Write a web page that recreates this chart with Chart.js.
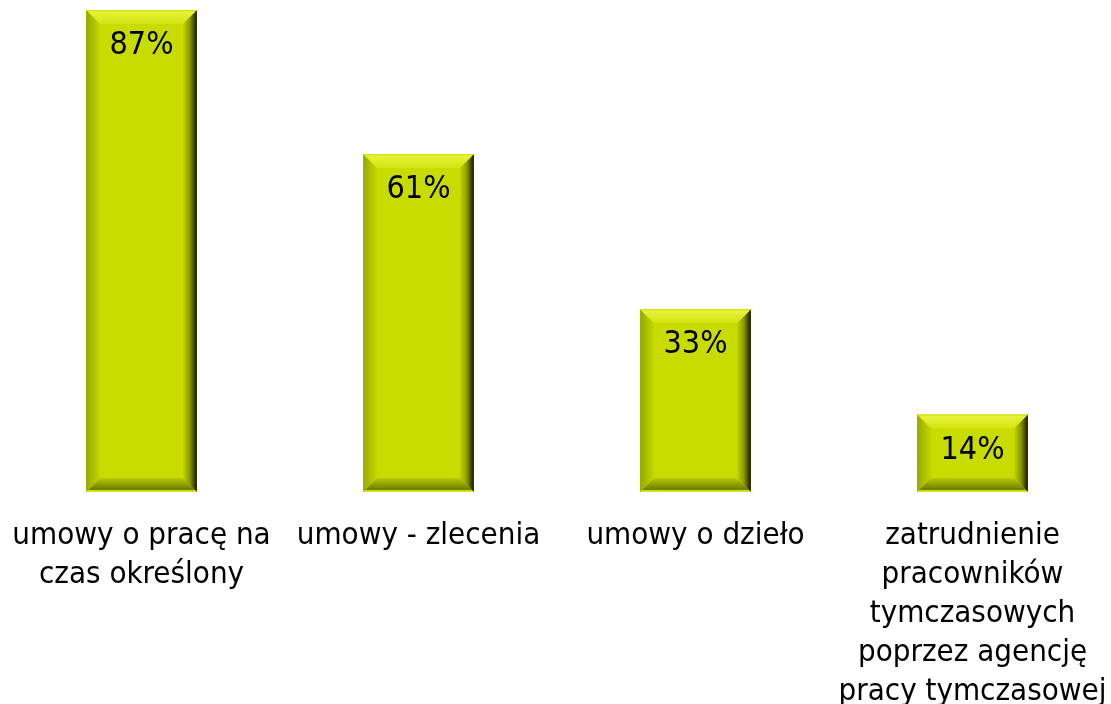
<!DOCTYPE html>
<html>
<head>
<meta charset="utf-8">
<script src="https://cdn.jsdelivr.net/npm/chart.js@4/dist/chart.umd.min.js"></script>
<style>
html,body{margin:0;padding:0;background:#fff;}
#wrap{width:1111px;height:704px;position:relative;}
</style>
</head>
<body>
<div id="wrap"><canvas id="c" width="1111" height="704"></canvas></div>
<script>
const categories = [
  ["umowy o pracę na", "czas określony"],
  ["umowy - zlecenia"],
  ["umowy o dzieło"],
  ["zatrudnienie", "pracowników", "tymczasowych", "poprzez agencję", "pracy tymczasowej"]
];
const values = [87, 61, 33, 14];
const valueLabels = ["87%", "61%", "33%", "14%"];

const FONT = "DejaVu Sans Condensed";
const FACE = "#c8dc00";

const bevelPlugin = {
  id: "bevel",
  afterDatasetsDraw(chart) {
    const ctx = chart.ctx;
    const meta = chart.getDatasetMeta(0);
    meta.data.forEach((bar, i) => {
      const p = bar.getProps(["x", "y", "base", "width"], true);
      const x0 = p.x - p.width / 2, x1 = p.x + p.width / 2;
      const y0 = p.y, y1 = p.base;
      const b = 14;
      ctx.save();
      // left
      let g = ctx.createLinearGradient(x0, 0, x0 + b, 0);
      g.addColorStop(0, "#98a800"); g.addColorStop(1, "#c4d800");
      ctx.fillStyle = g;
      ctx.beginPath(); ctx.moveTo(x0, y0); ctx.lineTo(x0 + b, y0 + b); ctx.lineTo(x0 + b, y1 - b); ctx.lineTo(x0, y1); ctx.closePath(); ctx.fill();
      // right
      g = ctx.createLinearGradient(x1 - b, 0, x1, 0);
      g.addColorStop(0, "#c4d800"); g.addColorStop(0.5, "#8a9800"); g.addColorStop(1, "#141400");
      ctx.fillStyle = g;
      ctx.beginPath(); ctx.moveTo(x1, y0); ctx.lineTo(x1, y1); ctx.lineTo(x1 - b, y1 - b); ctx.lineTo(x1 - b, y0 + b); ctx.closePath(); ctx.fill();
      // top
      g = ctx.createLinearGradient(0, y0, 0, y0 + b);
      g.addColorStop(0, "#d0e000"); g.addColorStop(0.15, "#e8f23c"); g.addColorStop(1, "#d2e410");
      ctx.fillStyle = g;
      ctx.beginPath(); ctx.moveTo(x0, y0); ctx.lineTo(x1, y0); ctx.lineTo(x1 - b, y0 + b); ctx.lineTo(x0 + b, y0 + b); ctx.closePath(); ctx.fill();
      // bottom
      g = ctx.createLinearGradient(0, y1 - b, 0, y1);
      g.addColorStop(0, "#b8cc00"); g.addColorStop(0.85, "#6c7a00"); g.addColorStop(0.86, "#c8dc00"); g.addColorStop(1, "#d8e820");
      ctx.fillStyle = g;
      ctx.beginPath(); ctx.moveTo(x0, y1); ctx.lineTo(x1, y1); ctx.lineTo(x1 - b, y1 - b); ctx.lineTo(x0 + b, y1 - b); ctx.closePath(); ctx.fill();
      // label
      ctx.fillStyle = "#000";
      ctx.font = "32px '" + FONT + "'";
      ctx.textAlign = "center";
      ctx.textBaseline = "middle";
      ctx.fillText(valueLabels[i], p.x, y0 + 36);
      ctx.restore();
    });
  }
};

new Chart(document.getElementById("c"), {
  type: "bar",
  data: {
    labels: categories,
    datasets: [{
      data: values,
      backgroundColor: FACE,
      borderWidth: 0,
      barPercentage: 0.4,
      categoryPercentage: 1.0
    }]
  },
  options: {
    responsive: false,
    animation: false,
    devicePixelRatio: 1,
    layout: { padding: { left: 3, right: 0, top: 0, bottom: 0 } },
    plugins: { legend: { display: false }, tooltip: { enabled: false } },
    scales: {
      y: { display: false, min: 0, max: 88.8 },
      x: {
        grid: { display: false, drawTicks: false },
        border: { display: false },
        afterFit(scale) { scale.height = 212; scale.paddingLeft = 0; scale.paddingRight = 0; },
        ticks: {
          color: "#000",
          font: { family: FONT, size: 31, lineHeight: 1.26 },
          padding: 24,
          maxRotation: 0,
          autoSkip: false
        }
      }
    }
  },
  plugins: [bevelPlugin]
});
</script>
</body>
</html>
